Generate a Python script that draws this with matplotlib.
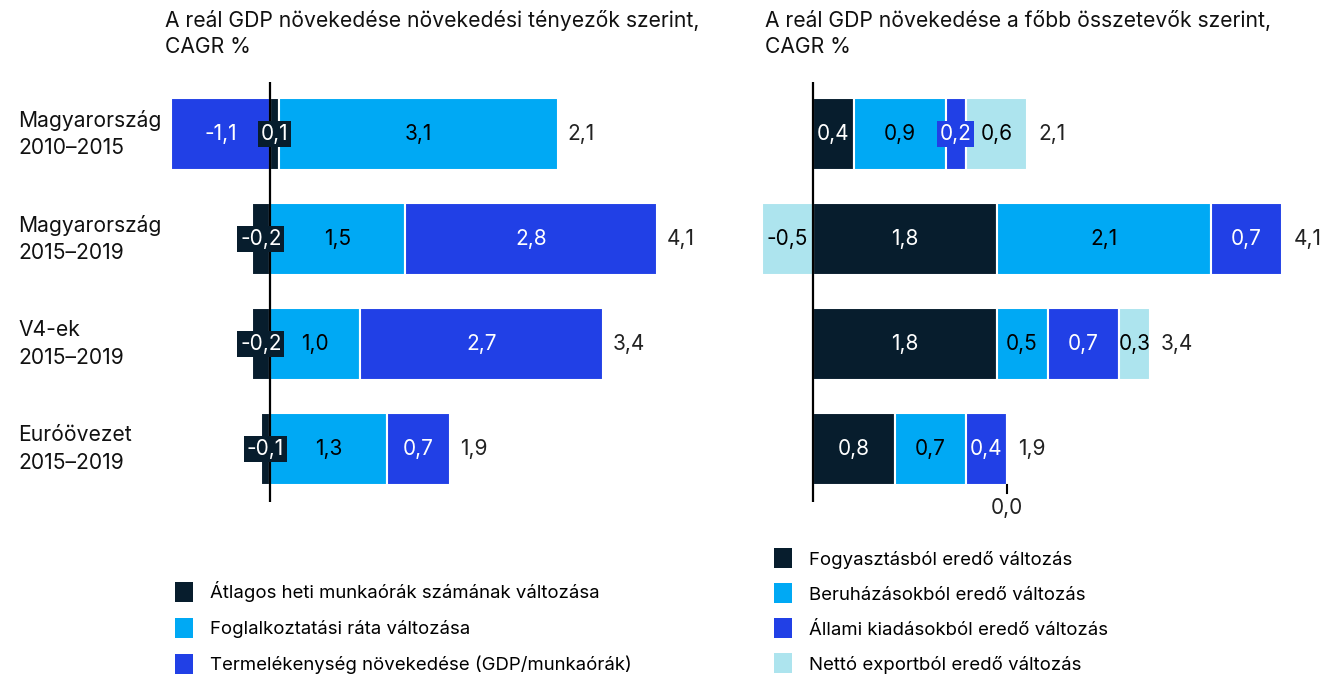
import matplotlib.pyplot as plt
from matplotlib.patches import Patch
from matplotlib.transforms import blended_transform_factory
import numpy as np

plt.rcParams['font.family'] = ['Inter', 'DejaVu Sans']

# data
rows = ["Magyarország\n2010–2015", "Magyarország\n2015–2019",
        "V4-ek\n2015–2019", "Euróövezet\n2015–2019"]

left_title = "A reál GDP növekedése növekedési tényezők szerint,\nCAGR %"
left_names = ["Átlagos heti munkaórák számának változása",
              "Foglalkoztatási ráta változása",
              "Termelékenység növekedése (GDP/munkaórák)"]
hours = [0.1, -0.2, -0.2, -0.1]
employment = [3.1, 1.5, 1.0, 1.3]
productivity = [-1.1, 2.8, 2.7, 0.7]
left_totals = [2.1, 4.1, 3.4, 1.9]

right_title = "A reál GDP növekedése a főbb összetevők szerint,\nCAGR %"
right_names = ["Fogyasztásból eredő változás",
               "Beruházásokból eredő változás",
               "Állami kiadásokból eredő változás",
               "Nettó exportból eredő változás"]
consumption = [0.4, 1.8, 1.8, 0.8]
investment = [0.9, 2.1, 0.5, 0.7]
government = [0.2, 0.7, 0.7, 0.4]
net_export = [0.6, -0.5, 0.3, 0.0]
right_totals = [2.1, 4.1, 3.4, 1.9]

NAVY = "#071d2d"
LIGHT = "#00a9f4"
BLUE = "#2140e6"
PALE = "#ade4ee"
txt_col = {NAVY: "white", LIGHT: "black", BLUE: "white", PALE: "black"}
VAL_FS = 15


def fmt(v):
    return ("%.1f" % v).replace(".", ",")


def stacked(ax, series, colors, totals, small=0.25):
    y = np.arange(len(rows))
    pos = np.zeros(len(rows))
    neg = np.zeros(len(rows))
    for vals, col in zip(series, colors):
        vals = np.array(vals)
        left = np.where(vals >= 0, pos, neg)
        ax.barh(y, vals, left=left, height=0.69, color=col,
                edgecolor="white", linewidth=1.5)
        for i, v in enumerate(vals):
            c = left[i] + v / 2
            if v == 0:
                # zero segment: tick plus label under bar
                ax.plot([left[i], left[i]], [y[i] + 0.34, y[i] + 0.42],
                        color="black", lw=1.5, clip_on=False)
                ax.text(left[i], y[i] + 0.56, fmt(v), ha="center",
                        va="center", fontsize=VAL_FS, color="#222222")
                continue
            box = None
            if abs(v) < small:
                box = dict(facecolor=col, edgecolor="none", pad=2.0)
            ax.text(c, y[i], fmt(v), ha="center", va="center",
                    fontsize=VAL_FS, color=txt_col[col], bbox=box, zorder=5)
        pos = pos + np.where(vals > 0, vals, 0)
        neg = neg + np.where(vals < 0, vals, 0)
    for i, t in enumerate(totals):
        ax.text(pos[i] + 0.11, y[i], fmt(t), ha="left", va="center",
                fontsize=VAL_FS, color="#222222")
    ax.axvline(0, color="black", lw=1.6, zorder=4)
    ax.set_ylim(len(rows) - 0.5, -0.5)
    ax.set_axis_off()


fig = plt.figure(figsize=(13.29, 6.75), dpi=100)
W, H = 1329.0, 675.0

ax1 = fig.add_axes([169 / W, 1 - 501.5 / H, 506 / W, 420 / H])
ax1.set_xlim(-1.12, 4.5)
stacked(ax1, [hours, employment, productivity], [NAVY, LIGHT, BLUE],
        left_totals)

ax2 = fig.add_axes([762 / W, 1 - 501.5 / H, 561 / W, 420 / H])
ax2.set_xlim(-0.5, 5.0)
stacked(ax2, [consumption, investment, government, net_export],
        [NAVY, LIGHT, BLUE, PALE], right_totals)

# row labels
tr = blended_transform_factory(fig.transFigure, ax1.transData)
for i, r in enumerate(rows):
    ax1.text(18 / W, i, r, transform=tr, ha="left", va="center",
             fontsize=15.2, linespacing=1.45, color="#111111")

fig.text(165 / W, 1 - 10 / H, left_title, ha="left", va="top", fontsize=15.2,
         linespacing=1.35, color="#111111")
fig.text(765 / W, 1 - 10 / H, right_title, ha="left", va="top", fontsize=15.2,
         linespacing=1.35, color="#111111")

h1 = [Patch(facecolor=c, edgecolor="none") for c in [NAVY, LIGHT, BLUE]]
fig.legend(h1, left_names, loc="upper left",
           bbox_to_anchor=(168 / W, 1 - 574 / H), frameon=False,
           fontsize=13.4, handlelength=0.95, handleheight=1.25,
           labelspacing=0.85, handletextpad=0.9, borderaxespad=0)
h2 = [Patch(facecolor=c, edgecolor="none") for c in [NAVY, LIGHT, BLUE, PALE]]
fig.legend(h2, right_names, loc="upper left",
           bbox_to_anchor=(767 / W, 1 - 541 / H), frameon=False,
           fontsize=13.4, handlelength=0.95, handleheight=1.25,
           labelspacing=0.8, handletextpad=0.9, borderaxespad=0)

fig.savefig("out.png", dpi=100)
